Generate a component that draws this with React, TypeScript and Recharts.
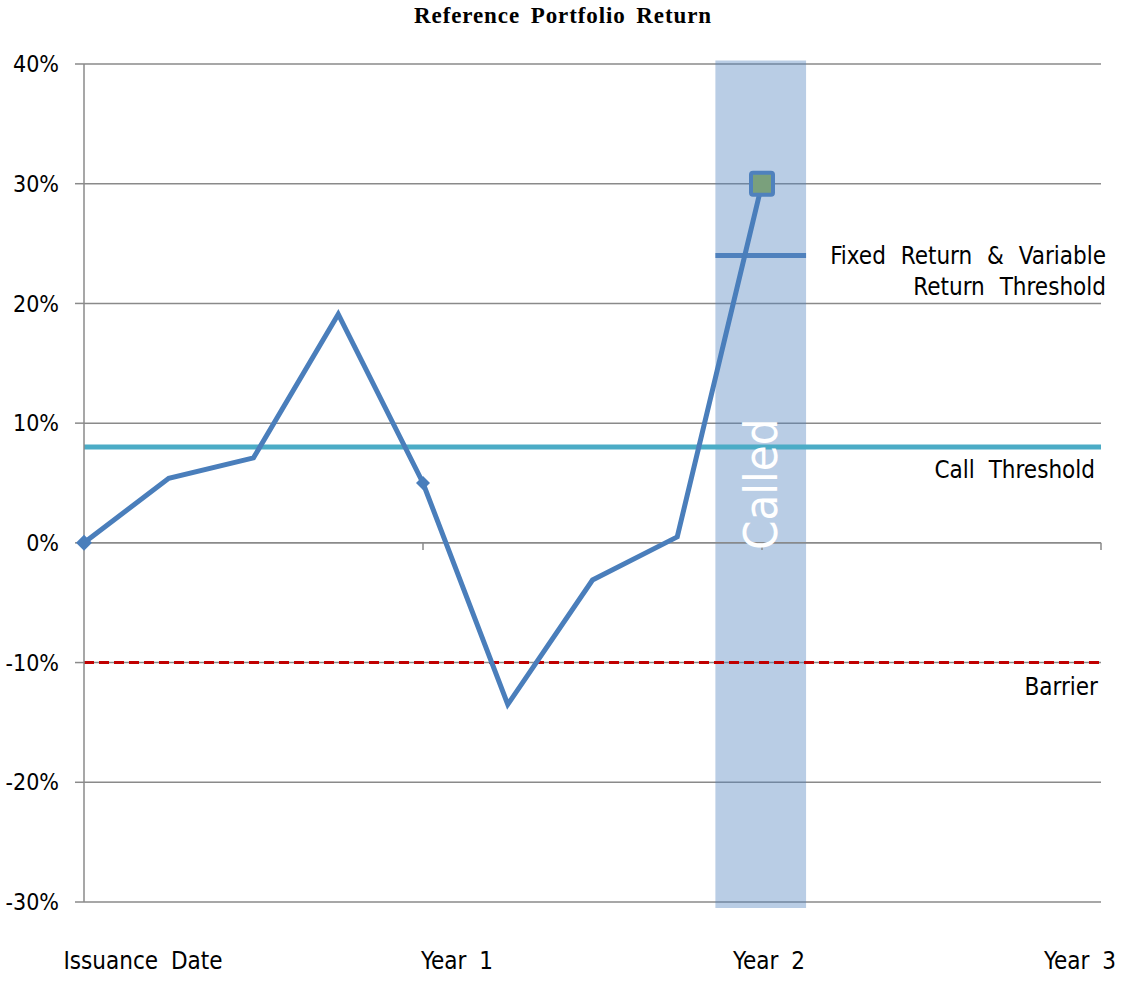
import React from "react";
import {
    ComposedChart, Line, XAxis, YAxis, CartesianGrid, ReferenceLine, ReferenceArea,
} from "recharts";

// quarter index (0 = issuance) and the portfolio return in %
const quarters = [0, 1, 2, 3, 4, 5, 6, 7, 8];
const returns = [0, 5.4, 7.1, 19.1, 5.0, -13.5, -3.1, 0.5, 30];

const xTicks = [0, 4, 8, 12];
const xLabels = ["Issuance Date", "Year 1", "Year 2", "Year 3"];
const yTicks = [-30, -20, -10, 0, 10, 20, 30, 40];

const callThreshold = 8;
const barrier = -10;
const fixedReturn = 24;
const calledFrom = 7.45;
const calledTo = 8.52;

const data = quarters.map((q, i) => ({ q, ret: returns[i] }));

const FONT = "'DejaVu Sans Condensed', 'DejaVu Sans'";
const FS = 24;
const GRID = "#8a8a8a";
// Excel puts the category labels at even spacing that doesn't sit on the ticks
const labelShift = [59, 34, 7, -21];

function XTick(props: any) {
    const { x, y, index } = props;
    return (
        <text x={x + labelShift[index]} y={y + 67} textAnchor="middle" fontFamily={FONT} fontSize={FS} wordSpacing={6} fill="#000">
            {xLabels[index]}
        </text>
    );
}

function Marker(props: any) {
    const { cx, cy, index } = props;
    if (index === 0 || index === 4) {
        const r = index === 0 ? 8 : 7;
        return <path key={index} d={`M${cx - r},${cy} L${cx},${cy - r} L${cx + r},${cy} L${cx},${cy + r} Z`} fill="#4a7ebb" />;
    }
    if (index === 8) {
        return <rect key={index} x={cx - 11} y={cy - 11} width={22} height={22} rx={2} fill="#7aa07c" stroke="#4f81bd" strokeWidth={4} />;
    }
    return <g key={index} />;
}

const belowRight = (text: string, dx: number, dy: number) => (props: any) => {
    const { viewBox } = props;
    return (
        <text x={viewBox.x + viewBox.width + dx} y={viewBox.y + dy} textAnchor="end" fontFamily={FONT} fontSize={FS} wordSpacing={7} fill="#000">
            {text}
        </text>
    );
};

const fixedLabel = (props: any) => {
    const { viewBox } = props;
    const xr = viewBox.x + viewBox.width + 5;
    return (
        <text textAnchor="end" fontFamily={FONT} fontSize={FS} wordSpacing={8} fill="#000">
            <tspan x={xr} y={viewBox.y + 8}>Fixed Return &amp; Variable</tspan>
            <tspan x={xr} y={viewBox.y + 39}>Return Threshold</tspan>
        </text>
    );
};

export default function App() {
    return (
        <div style={{ position: "absolute", left: 0, top: 0, width: 1126, height: 982, background: "#fff" }}>
            <div style={{
                position: "absolute", top: 3, left: 0, width: 1126, textAlign: "center",
                fontFamily: "Liberation Serif", fontWeight: "bold", fontSize: 23, letterSpacing: 0.9, wordSpacing: 4,
            }}>
                Reference Portfolio Return
            </div>
            <ComposedChart width={1126} height={982} data={data} margin={{ top: 64, right: 25, bottom: 0, left: 0 }}>
                <CartesianGrid vertical={false} stroke={GRID} strokeWidth={1.5} />
                <XAxis type="number" dataKey="q" domain={[0, 12]} ticks={xTicks} height={80}
                    axisLine={false} tickLine={false} tickSize={0} tickMargin={0} tick={<XTick />} interval={0} />
                <YAxis type="number" domain={[-30, 40]} ticks={yTicks} width={84} interval={0}
                    tickFormatter={(v: number) => `${v}%`}
                    axisLine={{ stroke: GRID, strokeWidth: 1.5 }} tickLine={{ stroke: GRID, strokeWidth: 1.5 }}
                    tickSize={9} tickMargin={16}
                    tick={{ fill: "#000", fontFamily: FONT, fontSize: 23 }} />
                {/* category axis sits on 0% with small tick marks */}
                <ReferenceLine y={0} stroke={GRID} strokeWidth={1.5} />
                {xTicks.slice(1).map((t) => (
                    <ReferenceLine key={t} segment={[{ x: t, y: 0 }, { x: t, y: -0.6 }]} stroke={GRID} strokeWidth={1.5} />
                ))}
                <ReferenceLine y={callThreshold} stroke="#4bacc6" strokeWidth={5}
                    label={belowRight("Call Threshold", -6, 31)} />
                <ReferenceLine y={barrier} stroke="#c00000" strokeWidth={3} strokeDasharray="10 5"
                    label={belowRight("Barrier", -3, 32)} />
                <ReferenceArea x1={calledFrom} x2={calledTo} y1={-30.5} y2={40.3} ifOverflow="visible"
                    fill="#4f81bd" fillOpacity={0.4} stroke="none" />
                <ReferenceLine segment={[{ x: calledFrom, y: fixedReturn }, { x: calledTo, y: fixedReturn }]}
                    stroke="#4f81bd" strokeWidth={5} />
                <ReferenceLine y={fixedReturn} stroke="none" label={fixedLabel} />
                <Line type="linear" dataKey="ret" stroke="#4a7ebb" strokeWidth={5} dot={<Marker />}
                    activeDot={false} isAnimationActive={false} />
                <ReferenceArea x1={calledFrom} x2={calledTo} y1={-30.5} y2={40.3} ifOverflow="visible"
                    fill="none" stroke="none"
                    label={{ value: "Called", position: "center", angle: -90, fill: "#fff", fontSize: 47, fontFamily: FONT }} />
            </ComposedChart>
        </div>
    );
}
